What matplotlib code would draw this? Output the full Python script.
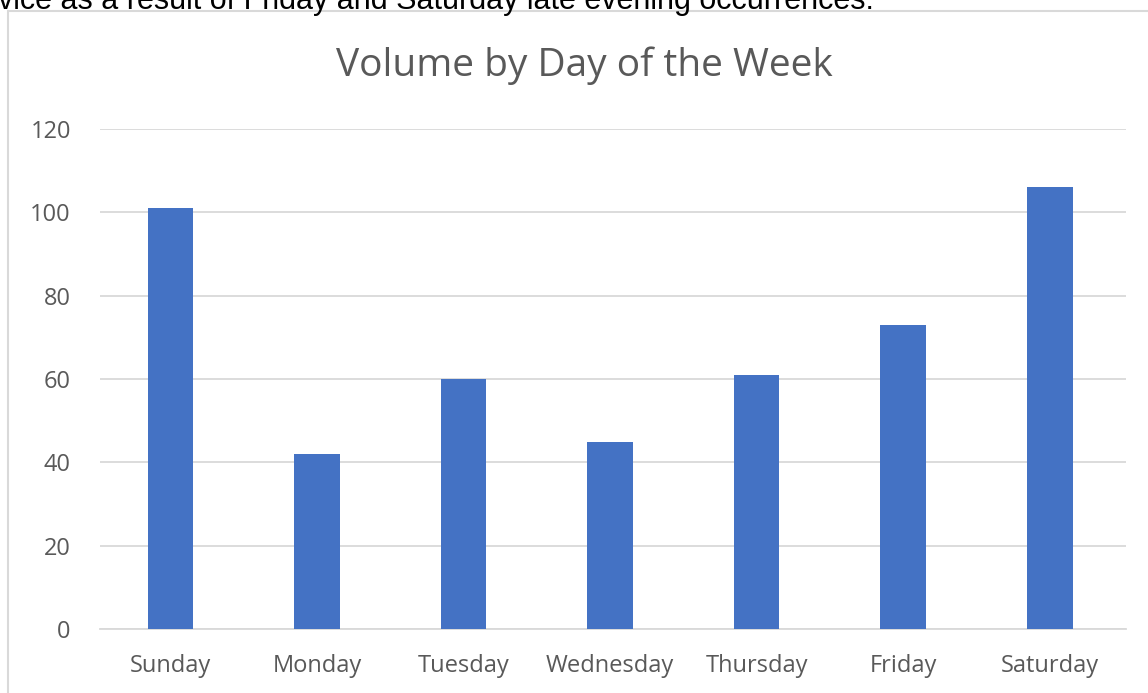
import matplotlib.pyplot as plt
from matplotlib.patches import Rectangle

days = ["Sunday", "Monday", "Tuesday", "Wednesday", "Thursday", "Friday", "Saturday"]
volume = [101, 42, 60, 45, 61, 73, 106]
y_ticks = [0, 20, 40, 60, 80, 100, 120]

W, H = 1148, 693
fig = plt.figure(figsize=(W / 100, H / 100), dpi=100)

# page text cut off above the chart
fig.text(-2 / W, 1 - 9 / H, "vice as a result of Friday and Saturday late evening occurrences.",
         family="Liberation Sans", fontsize=22, color="black", va="baseline", ha="left")

# chart frame
fig.patches.append(Rectangle((8 / W, -0.1), 1.2, 1 - 11 / H + 0.1, transform=fig.transFigure,
                             fill=False, edgecolor="#d9d9d9", linewidth=1.5))

ax = fig.add_axes([100 / W, (H - 629) / H, 1026 / W, 500 / H])
ax.bar(range(len(days)), volume, width=0.31, color="#4472c4", zorder=3)
ax.set_xlim(-0.48, 6.52)
ax.set_ylim(0, 120)
ax.set_yticks(y_ticks)
ax.set_xticks(range(len(days)))
ax.set_xticklabels(days)
ax.grid(axis="y", color="#d9d9d9", linewidth=1.3, zorder=0)
for s in ["top", "right", "left"]:
    ax.spines[s].set_visible(False)
ax.spines["bottom"].set_color("#d9d9d9")
ax.spines["bottom"].set_linewidth(1.3)
ax.tick_params(length=0, labelsize=17, labelcolor="#595959", pad=18)
ax.tick_params(axis="y", pad=21)
for lab in ax.get_xticklabels() + ax.get_yticklabels():
    lab.set_family("Open Sans")

fig.text(584 / W, 1 - 66 / H, "Volume by Day of the Week", family="Open Sans",
         fontsize=28, color="#595959", ha="center", va="center")

fig.savefig("out.png", dpi=100)
